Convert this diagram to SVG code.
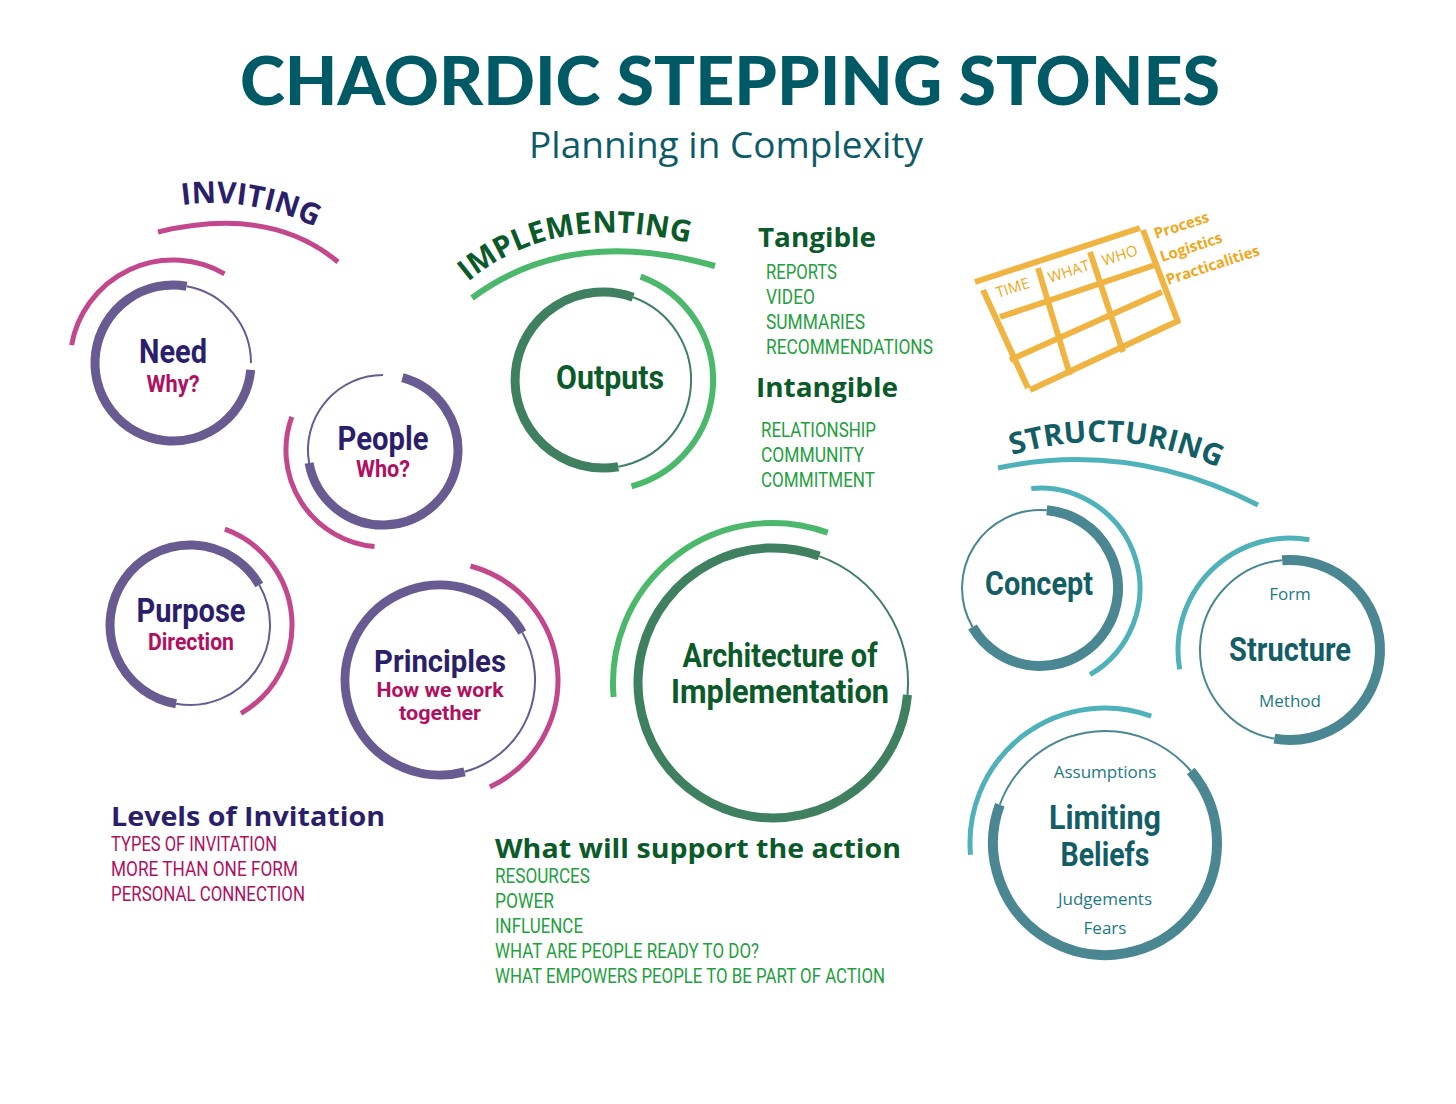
<svg xmlns="http://www.w3.org/2000/svg" width="1456" height="1104" viewBox="0 0 1456 1104">
<style>
.t{font-family:"Lato","Liberation Sans",sans-serif;font-weight:900}
.c{font-family:"Roboto","Liberation Sans",sans-serif;font-weight:bold}
.cn{font-family:"Roboto","Liberation Sans",sans-serif}
.s{font-family:"Open Sans","Liberation Sans",sans-serif}
.pu{fill:none;stroke:#675b92;stroke-width:9;stroke-linecap:butt}
.put{fill:none;stroke:#675b92;stroke-width:2}
.pk{fill:none;stroke:#c2478c;stroke-width:5}
.dg{fill:none;stroke:#3f8060;stroke-width:9}
.dgt{fill:none;stroke:#3f8060;stroke-width:2}
.lg{fill:none;stroke:#4cb86c;stroke-width:6}
.tl{fill:none;stroke:#4a8792;stroke-width:10}
.tlt{fill:none;stroke:#4a8792;stroke-width:2}
.lt{fill:none;stroke:#4fb2ba;stroke-width:5}
.or{stroke:#f0b442;stroke-width:6;fill:none}
</style>
<rect width="1456" height="1104" fill="#fff"/>
<text x="730" y="105" text-anchor="middle" class="t" font-size="66" fill="#005a66" textLength="980" lengthAdjust="spacingAndGlyphs">CHAORDIC STEPPING STONES</text>
<text x="726" y="158" text-anchor="middle" class="s" font-size="37" fill="#0d5b68">Planning in Complexity</text>

<g id="inviting-header">
<path id="ph1" d="M182,205 Q260,195 330,235" fill="none"/>
<text class="s" font-size="30" font-weight="bold" fill="#2b1f6b"><textPath href="#ph1">INVITING</textPath></text>
<path d="M158,232 Q270,205 338,262" class="pk"/>
</g>
<g id="implementing-header">
<path id="ph2" d="M468,282 Q560,205 708,248" fill="none"/>
<text class="s" font-size="30" font-weight="bold" fill="#0b5a2a"><textPath href="#ph2">IMPLEMENTING</textPath></text>
<path d="M472,298 Q570,225 715,266" class="lg"/>
</g>
<g id="structuring-header">
<path id="ph3" d="M1012,455 Q1130,420 1240,478" fill="none"/>
<text class="s" font-size="30" font-weight="bold" fill="#135e66"><textPath href="#ph3">STRUCTURING</textPath></text>
<path d="M998,468 Q1130,440 1258,505" class="lt"/>
</g>

<g id="need">
<path class="pu" d="M250.7,369.8 A78,78 0 1 1 186.6,286.2"/>
<path class="put" d="M186.6,286.2 A78,78 0 0 1 251,363"/>
<path class="pk" d="M71.6,345.1 A103,103 0 0 1 224.5,273.8"/>
<text x="173" y="363" text-anchor="middle" class="c" font-size="34" fill="#2b1f6b" textLength="68" lengthAdjust="spacingAndGlyphs">Need</text>
<text x="173" y="392" text-anchor="middle" class="c" font-size="23" fill="#b0105f" textLength="53" lengthAdjust="spacingAndGlyphs">Why?</text>
</g>
<g id="people">
<path class="pu" d="M402.4,377.6 A75,75 0 1 1 309.1,463"/>
<path class="put" d="M309.1,463 A75,75 0 0 1 383,375"/>
<path class="pk" d="M374.5,546.6 A97,97 0 0 1 291.8,416.8"/>
<text x="383" y="450" text-anchor="middle" class="c" font-size="34" fill="#2b1f6b" textLength="91" lengthAdjust="spacingAndGlyphs">People</text>
<text x="383" y="477" text-anchor="middle" class="c" font-size="23" fill="#b0105f" textLength="54" lengthAdjust="spacingAndGlyphs">Who?</text>
</g>
<g id="purpose">
<path class="pu" d="M176.1,703.8 A80,80 0 1 1 259.3,585"/>
<path class="put" d="M259.3,585 A80,80 0 0 1 176.1,703.8"/>
<path class="pk" d="M224.9,529.1 A102,102 0 0 1 241,713.3"/>
<text x="191" y="622" text-anchor="middle" class="c" font-size="34" fill="#2b1f6b" textLength="109" lengthAdjust="spacingAndGlyphs">Purpose</text>
<text x="191" y="650" text-anchor="middle" class="c" font-size="23" fill="#b0105f" textLength="86" lengthAdjust="spacingAndGlyphs">Direction</text>
</g>
<g id="principles">
<path class="pu" d="M464.6,771.8 A95,95 0 1 1 522.3,632.5"/>
<path class="put" d="M522.3,632.5 A95,95 0 0 1 464.6,771.8"/>
<path class="pk" d="M470.5,566 A118,118 0 0 1 489.9,786.9"/>
<text x="440" y="672" text-anchor="middle" class="c" font-size="32" fill="#2b1f6b" textLength="132" lengthAdjust="spacingAndGlyphs">Principles</text>
<text x="440" y="697" text-anchor="middle" class="c" font-size="21" fill="#b0105f" textLength="127" lengthAdjust="spacingAndGlyphs">How we work</text>
<text x="440" y="720" text-anchor="middle" class="c" font-size="21" fill="#b0105f" textLength="82" lengthAdjust="spacingAndGlyphs">together</text>
</g>
<g id="outputs">
<path class="dg" d="M618.3,466.7 A88,88 0 1 1 633.1,297.3"/>
<path class="dgt" d="M633.1,297.3 A88,88 0 0 1 618.3,466.7"/>
<path class="lg" d="M640.6,276.6 A110,110 0 0 1 631.5,486.3"/>
<text x="610" y="389" text-anchor="middle" class="c" font-size="34" fill="#0b5a2a" textLength="108" lengthAdjust="spacingAndGlyphs">Outputs</text>
</g>
<g id="architecture">
<path class="dg" d="M907.5,694.8 A135,135 0 1 1 819.2,556.1"/>
<path class="dgt" d="M819.2,556.1 A135,135 0 0 1 907.5,694.8"/>
<path class="lg" d="M613.6,697 A160,160 0 0 1 827.7,532.6"/>
<text x="780" y="667" text-anchor="middle" class="c" font-size="34" fill="#0b5a2a" textLength="195" lengthAdjust="spacingAndGlyphs">Architecture of</text>
<text x="780" y="703" text-anchor="middle" class="c" font-size="34" fill="#0b5a2a" textLength="218" lengthAdjust="spacingAndGlyphs">Implementation</text>
</g>
<g id="concept">
<path class="tl" d="M1046.8,510.3 A78,78 0 1 1 972.5,627"/>
<path class="tlt" d="M972.5,627 A78,78 0 0 1 1046.8,510.3"/>
<path class="lt" d="M1031.3,488.4 A100,100 0 0 1 1090,674.6"/>
<text x="1039" y="595" text-anchor="middle" class="c" font-size="34" fill="#135e66" textLength="108" lengthAdjust="spacingAndGlyphs">Concept</text>
</g>
<g id="structure">
<path class="tl" d="M1282.2,560.3 A90,90 0 1 1 1274.4,738.6"/>
<path class="tlt" d="M1274.4,738.6 A90,90 0 0 1 1282.2,560.3"/>
<path class="lt" d="M1179.7,669.4 A112,112 0 0 1 1309.4,539.7"/>
<text x="1290" y="600" text-anchor="middle" class="s" font-size="17" fill="#1c7a84">Form</text>
<text x="1290" y="661" text-anchor="middle" class="c" font-size="34" fill="#135e66" textLength="122" lengthAdjust="spacingAndGlyphs">Structure</text>
<text x="1290" y="707" text-anchor="middle" class="s" font-size="17" fill="#1c7a84">Method</text>
</g>
<g id="limiting-beliefs">
<path class="tl" d="M1190.8,771 A112,112 0 1 1 999.8,804.7"/>
<path class="tlt" d="M999.8,804.7 A112,112 0 0 1 1190.8,771"/>
<path class="lt" d="M970.5,854.8 A135,135 0 0 1 1151.2,716.1"/>
<text x="1105" y="778" text-anchor="middle" class="s" font-size="17" fill="#1c7a84">Assumptions</text>
<text x="1105" y="829" text-anchor="middle" class="c" font-size="34" fill="#135e66" textLength="112" lengthAdjust="spacingAndGlyphs">Limiting</text>
<text x="1105" y="866" text-anchor="middle" class="c" font-size="34" fill="#135e66" textLength="89" lengthAdjust="spacingAndGlyphs">Beliefs</text>
<text x="1105" y="905" text-anchor="middle" class="s" font-size="17" fill="#1c7a84">Judgements</text>
<text x="1105" y="934" text-anchor="middle" class="s" font-size="17" fill="#1c7a84">Fears</text>
</g>

<g id="tangible">
<text x="758" y="247" class="s" font-size="27" font-weight="bold" fill="#0b5a2a" textLength="118" lengthAdjust="spacingAndGlyphs">Tangible</text>
<g class="cn" font-size="20" fill="#1fa040">
<text x="766" y="279" textLength="71" lengthAdjust="spacingAndGlyphs">REPORTS</text><text x="766" y="304" textLength="49" lengthAdjust="spacingAndGlyphs">VIDEO</text><text x="766" y="329" textLength="99" lengthAdjust="spacingAndGlyphs">SUMMARIES</text><text x="766" y="354" textLength="167" lengthAdjust="spacingAndGlyphs">RECOMMENDATIONS</text>
</g>
<text x="756" y="397" class="s" font-size="27" font-weight="bold" fill="#0b5a2a" textLength="142" lengthAdjust="spacingAndGlyphs">Intangible</text>
<g class="cn" font-size="20" fill="#1fa040">
<text x="761" y="437" textLength="115" lengthAdjust="spacingAndGlyphs">RELATIONSHIP</text><text x="761" y="462" textLength="103" lengthAdjust="spacingAndGlyphs">COMMUNITY</text><text x="761" y="487" textLength="114" lengthAdjust="spacingAndGlyphs">COMMITMENT</text>
</g>
</g>
<g id="levels">
<text x="111" y="826" class="s" font-size="27" font-weight="bold" fill="#2b1f6b" textLength="274" lengthAdjust="spacingAndGlyphs">Levels of Invitation</text>
<g class="cn" font-size="20" fill="#b0105f">
<text x="111" y="851" textLength="166" lengthAdjust="spacingAndGlyphs">TYPES OF INVITATION</text><text x="111" y="876" textLength="187" lengthAdjust="spacingAndGlyphs">MORE THAN ONE FORM</text><text x="111" y="901" textLength="194" lengthAdjust="spacingAndGlyphs">PERSONAL CONNECTION</text>
</g>
</g>
<g id="support">
<text x="495" y="858" class="s" font-size="27" font-weight="bold" fill="#0b5a2a" textLength="406" lengthAdjust="spacingAndGlyphs">What will support the action</text>
<g class="cn" font-size="20" fill="#1fa040">
<text x="495" y="883" textLength="95" lengthAdjust="spacingAndGlyphs">RESOURCES</text><text x="495" y="908" textLength="59" lengthAdjust="spacingAndGlyphs">POWER</text><text x="495" y="933" textLength="88" lengthAdjust="spacingAndGlyphs">INFLUENCE</text><text x="495" y="958" textLength="264" lengthAdjust="spacingAndGlyphs">WHAT ARE PEOPLE READY TO DO?</text><text x="495" y="983" textLength="390" lengthAdjust="spacingAndGlyphs">WHAT EMPOWERS PEOPLE TO BE PART OF ACTION</text>
</g>
</g>
<g id="grid">
<path class="or" d="M975,282 L1140,228 M1000,317 L1155,265 M1010,360 L1162,292 M1030,390 L1180,320"/>
<path class="or" d="M983,290 L1028,388 M1038,268 L1070,375 M1090,252 L1123,352 M1143,230 L1178,322"/>
<g class="s" font-size="15" fill="#f0a820">
<text transform="translate(998,298) rotate(-18)">TIME</text>
<text transform="translate(1050,283) rotate(-18)">WHAT</text>
<text transform="translate(1104,266) rotate(-18)">WHO</text>
</g>
<g class="s" font-size="15" font-weight="bold" fill="#f0a820">
<text transform="translate(1156,239) rotate(-18)">Process</text>
<text transform="translate(1162,262) rotate(-18)">Logistics</text>
<text transform="translate(1168,285) rotate(-18)">Practicalities</text>
</g>
</g>
</svg>
